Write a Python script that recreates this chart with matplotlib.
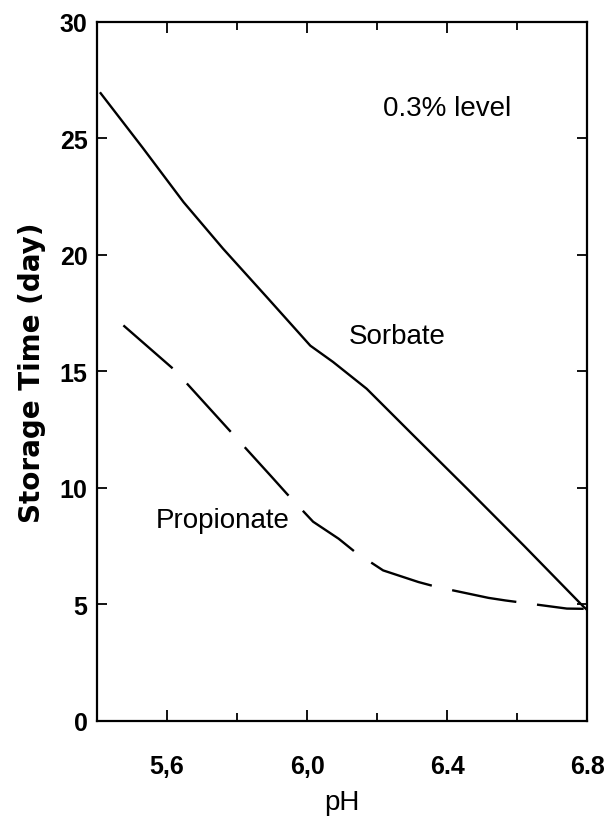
import matplotlib
matplotlib.use("Agg")
import matplotlib.pyplot as plt
from matplotlib.ticker import MultipleLocator

# valeurs
ph_sorbate = [5.41, 5.53, 5.647, 5.76, 5.885, 6.009, 6.074, 6.17, 6.3, 6.457, 6.62, 6.789, 6.8]
t_sorbate = [26.94, 24.6, 22.26, 20.26, 18.18, 16.1, 15.4, 14.25, 12.3, 9.96, 7.5, 4.9, 4.75]

ph_propio = [5.475, 5.623, 5.67, 5.899, 5.942, 6.017, 6.09, 6.137, 6.217,
             6.318, 6.37, 6.518, 6.566, 6.742, 6.79]
t_propio = [16.97, 15.03, 14.25, 10.46, 9.74, 8.54, 7.81, 7.24, 6.45,
            5.95, 5.74, 5.27, 5.16, 4.81, 4.8]

x_ticks = [5.6, 6.0, 6.4, 6.8]
x_labels = ["5,6", "6,0", "6.4", "6.8"]

plt.rcParams["lines.scale_dashes"] = False
plt.rcParams["font.family"] = ["Liberation Sans", "DejaVu Sans"]

fig = plt.figure(figsize=(6.11, 8.2), dpi=100)
ax = fig.add_axes([0.159, 0.120, 0.802, 0.852])

ax.plot(ph_sorbate, t_sorbate, color="black", lw=1.7)
ax.plot(ph_propio, t_propio, color="black", lw=1.7, dashes=(47, 15))

ax.set_xlim(5.4, 6.8)
ax.set_ylim(0, 30)
ax.set_xticks(x_ticks)
ax.set_xticklabels(x_labels)
ax.xaxis.set_minor_locator(MultipleLocator(0.2))
ax.yaxis.set_major_locator(MultipleLocator(5))

ax.tick_params(which="both", direction="in", top=True, right=True, width=1.3)
ax.tick_params(axis="x", which="major", length=8, pad=24, labelsize=18)
ax.tick_params(axis="x", which="minor", length=6)
ax.tick_params(axis="y", which="major", length=7, pad=7, labelsize=18)
for lab in ax.get_xticklabels() + ax.get_yticklabels():
    lab.set_fontweight("bold")

for s in ax.spines.values():
    s.set_linewidth(1.6)

ax.set_xlabel("pH", fontsize=20, labelpad=8)
ax.set_ylabel("Storage Time (day)", fontsize=20, fontweight="bold",
              family="DejaVu Sans", labelpad=10)

ax.text(6.40, 26.3, "0.3% level", fontsize=20, ha="center", va="center")
ax.text(6.257, 16.5, "Sorbate", fontsize=20, ha="center", va="center")
ax.text(5.76, 8.6, "Propionate", fontsize=20, ha="center", va="center")

fig.savefig("out.png", dpi=100)
